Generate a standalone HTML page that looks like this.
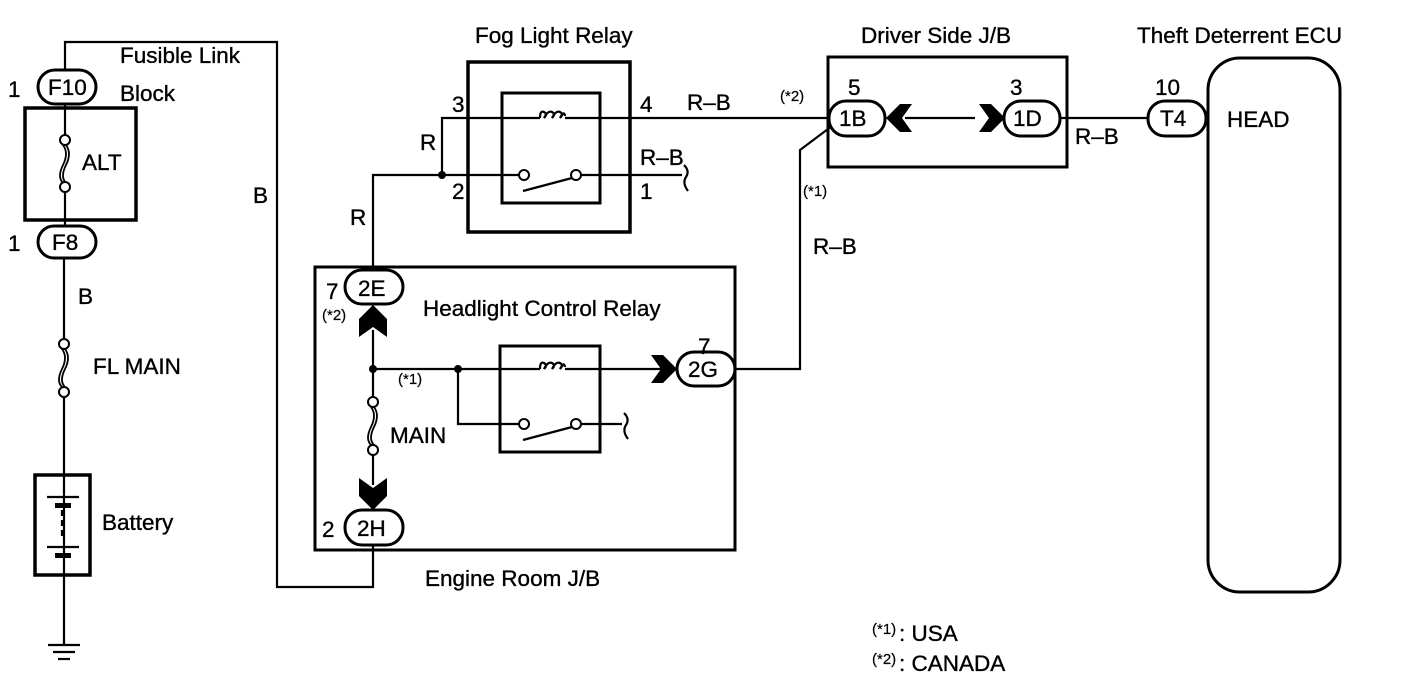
<!DOCTYPE html>
<html><head><meta charset="utf-8"><style>
html,body{margin:0;padding:0;background:#fff}
svg{display:block}
text{font-family:"Liberation Sans",Arial,sans-serif;fill:#000;font-size:22.5px;stroke:#000;stroke-width:0.35}
.s{font-size:15px;stroke-width:0.2}
</style></head><body>
<svg width="1408" height="682" viewBox="0 0 1408 682" xmlns="http://www.w3.org/2000/svg">
<g fill="none" stroke="#000" stroke-width="2.2">
<polyline points="65,70 65,42 277,42 277,587 373,587 373,545"/>
<line x1="65" y1="104" x2="65" y2="135"/>
<line x1="65" y1="192" x2="65" y2="226"/>
<line x1="64" y1="258" x2="64" y2="339"/>
<line x1="64" y1="397" x2="64" y2="645"/>
<rect x="25" y="108" width="111" height="112" stroke-width="3.5"/>
<rect x="35" y="475" width="55" height="100" stroke-width="3.5"/>
<line x1="47" y1="497" x2="79" y2="497"/>
<line x1="47" y1="547" x2="79" y2="547"/>
<line x1="62" y1="510" x2="62" y2="540" stroke-dasharray="6,4"/>
<line x1="48" y1="645" x2="80" y2="645"/>
<line x1="53" y1="652" x2="75" y2="652"/>
<line x1="58" y1="659" x2="70" y2="659"/>
<rect x="468" y="62" width="162" height="170" stroke-width="3.5"/>
<rect x="502" y="93" width="98" height="110" stroke-width="3"/>
<polyline points="442,175 442,118 540,118"/>
<line x1="565" y1="118" x2="830" y2="118"/>
<polyline points="373,268 373,175 519,175"/>
<line x1="581" y1="175" x2="682" y2="175"/>
<line x1="523" y1="191" x2="572" y2="178"/>
<path d="M684,165 q6,6 2,12 q-4,6 2,14"/>
<rect x="828" y="57" width="239" height="110" stroke-width="3"/>
<line x1="905" y1="118" x2="975" y2="118"/>
<polyline points="832,126 800,150 800,369 735,369"/>
<line x1="1060" y1="118" x2="1148" y2="118"/>
<rect x="1208" y="58" width="132" height="534" rx="32" stroke-width="3"/>
<rect x="315" y="267" width="420" height="283" stroke-width="3"/>
<line x1="373" y1="330" x2="373" y2="397"/>
<line x1="373" y1="455" x2="373" y2="485"/>
<line x1="373" y1="369" x2="540" y2="369"/>
<line x1="565" y1="369" x2="680" y2="369"/>
<polyline points="458,369 458,424 519,424"/>
<line x1="581" y1="424" x2="622" y2="424"/>
<path d="M624,413 q6,6 2,12 q-4,6 2,14"/>
<rect x="500" y="346" width="100" height="106" stroke-width="3"/>
<line x1="523" y1="440" x2="572" y2="427"/>
<path d="M66,145 q6,8 0,20 q-6,12 0,18 M63,145 q6,8 0,20 q-6,12 0,18" stroke-width="1.8"/>
<path d="M65,349 q6,8 0,20 q-6,12 0,18 M62,349 q6,8 0,20 q-6,12 0,18" stroke-width="1.8"/>
<path d="M374,407 q6,8 0,20 q-6,12 0,18 M371,407 q6,8 0,20 q-6,12 0,18" stroke-width="1.8"/>
<path d="M540,118 q0,-8 4,-6 q4,2 0,6 q4,-8 8,-6 q4,2 0,6 q4,-8 8,-6 q4,2 0,6 q4,-8 5,-2"/>
<path d="M540,369 q0,-8 4,-6 q4,2 0,6 q4,-8 8,-6 q4,2 0,6 q4,-8 8,-6 q4,2 0,6 q4,-8 5,-2"/>
</g>
<g fill="#fff" stroke="#000" stroke-width="2">
<circle cx="65" cy="140" r="5"/><circle cx="65" cy="187" r="5"/>
<circle cx="64" cy="344" r="5"/><circle cx="64" cy="392" r="5"/>
<circle cx="373" cy="402" r="5"/><circle cx="373" cy="450" r="5"/>
<circle cx="524" cy="175" r="5"/><circle cx="576" cy="175" r="5"/>
<circle cx="524" cy="424" r="5"/><circle cx="576" cy="424" r="5"/>
</g>
<g fill="#fff" stroke="#000" stroke-width="3">
<rect x="38" y="70" width="58" height="34" rx="17"/>
<rect x="38" y="226" width="58" height="32" rx="16"/>
<rect x="345" y="270" width="58" height="34" rx="17"/>
<rect x="345" y="510" width="58" height="35" rx="17"/>
<rect x="677" y="352" width="58" height="34" rx="17"/>
<rect x="829" y="101" width="56" height="35" rx="17"/>
<rect x="1004" y="101" width="56" height="35" rx="17"/>
<rect x="1148" y="101" width="58" height="35" rx="17"/>
</g>
<g fill="#000">
<rect x="55" y="503" width="16" height="5"/><rect x="55" y="553" width="16" height="5"/>
<circle cx="442" cy="175" r="4"/><circle cx="373" cy="369" r="4"/><circle cx="458" cy="369" r="4"/>
<polygon points="886,118 900,104 912,104 902,118 912,132 900,132"/>
<polygon points="1005,118 991,104 979,104 989,118 979,132 991,132"/>
<polygon points="677,369 663,355 651,355 661,369 651,383 663,383"/>
<polygon points="373,305 359,319 359,337 373,327 387,337 387,319"/>
<polygon points="373,510 359,496 359,478 373,488 387,478 387,496"/>
</g>
<text x="8" y="97">1</text><text x="48" y="95">F10</text>
<text x="8" y="251">1</text><text x="52" y="250">F8</text>
<text x="82" y="170">ALT</text>
<text x="120" y="63">Fusible Link</text><text x="120" y="101">Block</text>
<text x="78" y="304">B</text><text x="253" y="203">B</text>
<text x="93" y="374">FL MAIN</text><text x="102" y="530">Battery</text>
<text x="475" y="43">Fog Light Relay</text>
<text x="452" y="112">3</text><text x="640" y="112">4</text><text x="687" y="110">R–B</text>
<text x="420" y="150">R</text><text x="452" y="199">2</text><text x="640" y="199">1</text>
<text x="640" y="165">R–B</text><text x="350" y="225">R</text>
<text x="861" y="43">Driver Side J/B</text>
<text x="848" y="95">5</text><text x="1010" y="95">3</text>
<text x="839" y="126">1B</text><text x="1013" y="126">1D</text>
<text class="s" x="780" y="101">(*2)</text><text class="s" x="803" y="196">(*1)</text>
<text x="813" y="254">R–B</text><text x="1075" y="144">R–B</text>
<text x="1137" y="43">Theft Deterrent ECU</text>
<text x="1155" y="95">10</text><text x="1160" y="126">T4</text>
<text x="1227" y="127">HEAD</text>
<text x="326" y="299">7</text><text x="358" y="296">2E</text>
<text class="s" x="322" y="320">(*2)</text>
<text x="423" y="316">Headlight Control Relay</text>
<text x="698" y="354">7</text><text x="688" y="377">2G</text>
<text class="s" x="398" y="384">(*1)</text>
<text x="390" y="443">MAIN</text>
<text x="322" y="537">2</text><text x="357" y="536">2H</text>
<text x="425" y="586">Engine Room J/B</text>
<text class="s" x="872" y="634">(*1)</text><text x="899" y="641">: USA</text>
<text class="s" x="872" y="664">(*2)</text><text x="899" y="671">: CANADA</text>
</svg>
</body></html>
